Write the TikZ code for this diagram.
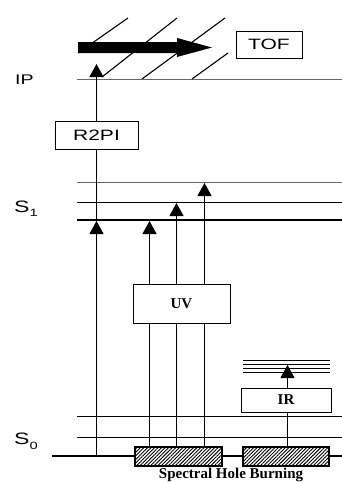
\documentclass[tikz,border=0pt]{standalone}
\usepackage{fontspec}
\setmainfont{Liberation Serif}
\newfontfamily\arw[FakeStretch=1.4]{Liberation Sans}
\usetikzlibrary{arrows.meta,patterns.meta}
\tikzset{
 lvl/.style={line width=1.1pt},
 lvlthick/.style={line width=2.2pt},
 lvlgray/.style={line width=1.2pt, draw=black!60},
 box/.style={draw, line width=1pt, fill=white, inner sep=0pt},
 sansfont/.style={font=\arw\fontsize{15}{15}\selectfont},
 boldfont/.style={font=\bfseries\fontsize{15}{15}\selectfont},
 hatchbox/.style={draw, line width=1.1pt, preaction={fill=white},
   pattern={Lines[angle=45,distance=2.5pt,line width=0.9pt]},
   minimum height=19pt, inner sep=0pt},
 up/.style={line width=1.1pt, -{Triangle[length=13pt,width=14pt]}},
 vline/.style={line width=1.1pt},
 hatch/.style={line width=1.1pt},
 lab/.style={inner sep=0pt, anchor=base west},
}
\begin{document}
\begin{tikzpicture}[x=1pt,y=-1pt]
\useasboundingbox (0,0) rectangle (342,482);
% hatching of the ionisation continuum
\draw[hatch] (78,53) -- (128,18);
\draw[hatch] (102,77) -- (177,18);
\draw[hatch] (142,79) -- (225,18);
\draw[hatch] (192,79) -- (228,53);
% thick TOF arrow
\fill (78,42) -- (177,42) -- (177,38) -- (212,47.5) -- (177,57) -- (177,53) -- (78,53) -- cycle;
% levels
\draw[lvlgray] (77,79.5) -- (342,79.5);
\draw[lvlgray] (77,182.5) -- (342,182.5);
\draw[lvl] (77,202.5) -- (342,202.5);
\draw[lvlthick] (77,220) -- (342,220);
\draw[lvl] (77,416.5) -- (342,416.5);
\draw[lvl] (77,437.5) -- (342,437.5);
\draw[lvlthick] (52,456) -- (342,456);
\foreach \yy in {360.5,364.5,368.5,372.5} \draw[lvl] (243,\yy) -- (330,\yy);
% labels
\node[lab, font=\arw\fontsize{14}{14}\selectfont] (ip) at (15,84) {IP};
\node[lab, font=\arw\fontsize{16.5}{16.5}\selectfont] (s1) at (14,212) {S\raisebox{-4pt}{\fontsize{10.5}{10.5}\selectfont 1}};
\node[lab, font=\arw\fontsize{16.5}{16.5}\selectfont] (s0) at (14,444) {S\raisebox{-5pt}{\fontsize{10.5}{10.5}\selectfont 0}};
% boxes
\node[box, sansfont, minimum width=66pt, minimum height=27pt] (tof) at (269,44.5) {TOF};
\node[box, sansfont, minimum width=83pt, minimum height=28pt] (r2pi) at (96.5,135) {R2PI};
\node[box, font=\bfseries\fontsize{15}{15}\selectfont, minimum width=97pt, minimum height=39pt] (uv) at (181.5,303.5) {UV};
\node[box, boldfont, minimum width=90pt, minimum height=24pt] (ir) at (286,400) {IR};
\node[hatchbox, minimum width=87pt] (hb1) at (178.5,456.5) {};
\node[hatchbox, minimum width=86pt] (hb2) at (286,456.5) {};
\node[boldfont, anchor=base, inner sep=0pt] (shb) at (231,478) {Spectral Hole Burning};
% arrow end points
\coordinate (b97) at (96.5,456);
\coordinate (s1a) at (96.5,221);
\coordinate (ipa) at (96.5,64);
\coordinate (t150) at (149.5,221);
\coordinate (t177) at (176.5,203);
\coordinate (t204) at (204.5,183);
\coordinate (t288) at (287.5,365);
% transitions
\draw[up] (b97) -- (s1a);
\draw[vline] (s1a) -- (r2pi.south -| s1a);
\draw[up] (r2pi.north -| ipa) -- (ipa);
\foreach \t in {t150,t177,t204}{
  \draw[vline] (hb1.north -| \t) -- (uv.south -| \t);
  \draw[up] (uv.north -| \t) -- (\t);
}
\draw[vline] (hb2.north -| t288) -- (ir.south -| t288);
\draw[up] (ir.north -| t288) -- (t288);
\end{tikzpicture}
\end{document}
